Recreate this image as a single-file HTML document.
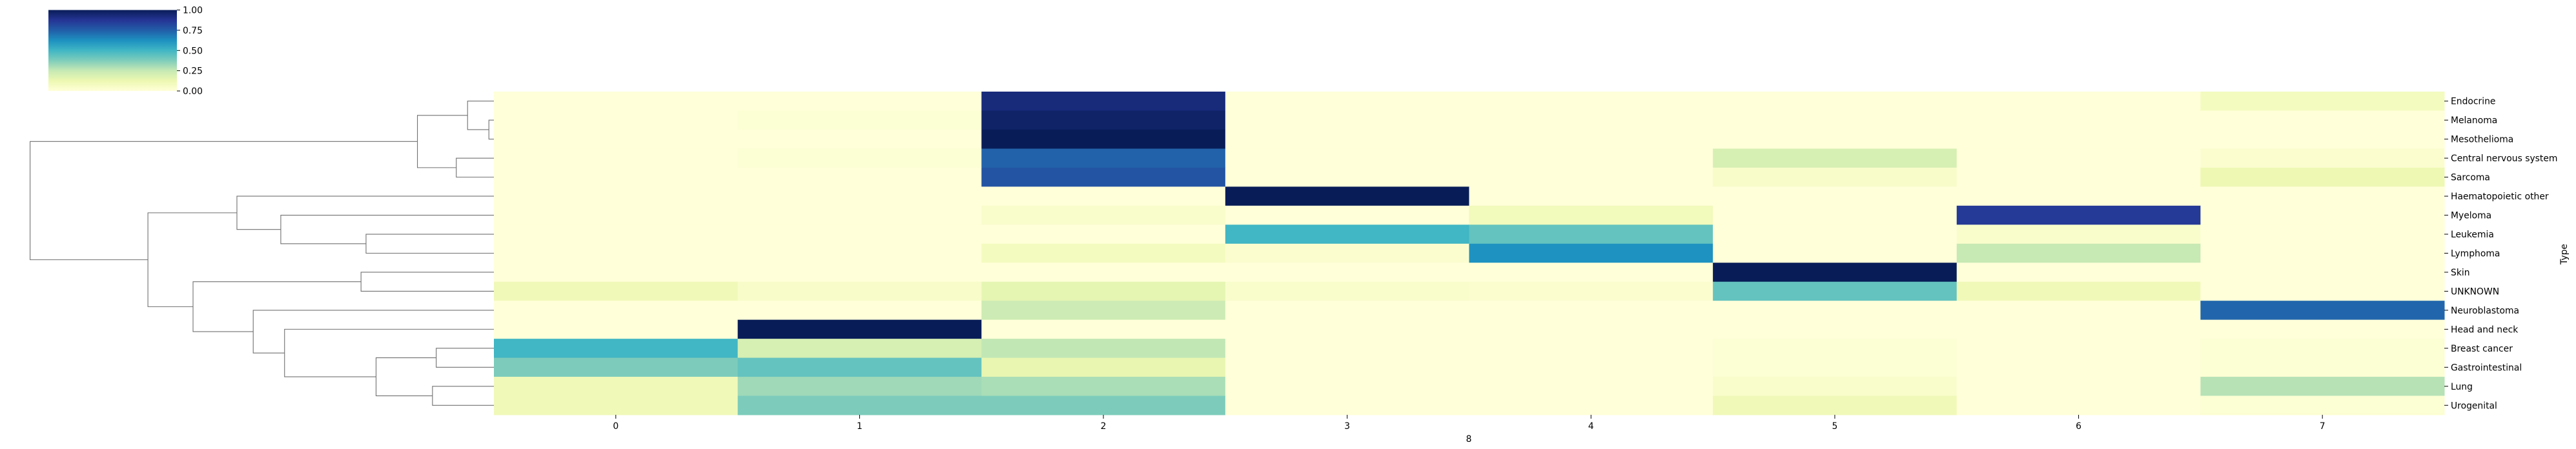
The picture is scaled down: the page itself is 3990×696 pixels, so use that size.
<!DOCTYPE html>
<html><head><meta charset="utf-8"><style>
html,body{margin:0;padding:0;background:#fff;}
svg{display:block;font-family:"DejaVu Sans","Liberation Sans",sans-serif;}
</style></head><body>
<svg id="chart" width="3990" height="696" viewBox="0 0 3990 696" xmlns="http://www.w3.org/2000/svg">
<defs>
<linearGradient id="cbgrad" x1="0" y1="1" x2="0" y2="0">
<stop offset="0" stop-color="#ffffd9"/><stop offset="0.125" stop-color="#edf8b1"/><stop offset="0.25" stop-color="#c7e9b4"/><stop offset="0.375" stop-color="#7fcdbb"/><stop offset="0.5" stop-color="#41b6c4"/><stop offset="0.625" stop-color="#1d91c0"/><stop offset="0.75" stop-color="#225ea8"/><stop offset="0.875" stop-color="#253494"/><stop offset="1" stop-color="#081d58"/>
</linearGradient>
</defs>
<g id="heat"></g>
<g id="dendro"></g>
<g id="cbar"></g>
<text x="2275" y="685" font-size="13.9" text-anchor="middle" fill="#000">8</text>
<text x="3976" y="394" font-size="13.9" text-anchor="middle" fill="#000" transform="rotate(-90 3976 394)">Type</text>
</svg>
<script>
const rowLabels = ["Endocrine","Melanoma","Mesothelioma","Central nervous system","Sarcoma","Haematopoietic other","Myeloma","Leukemia","Lymphoma","Skin","UNKNOWN","Neuroblastoma","Head and neck","Breast cancer","Gastrointestinal","Lung","Urogenital"];
const colLabels = ["0","1","2","3","4","5","6","7"];
const values = [
[0,0,0.93,0,0,0,0,0.08],
[0,0.02,0.97,0,0,0,0,0],
[0,0,1.0,0,0,0,0,0],
[0,0.02,0.74,0,0,0.2,0,0.03],
[0,0,0.78,0,0,0.05,0,0.12],
[0,0,0,1.0,0,0,0,0],
[0,0,0.04,0,0.09,0,0.86,0],
[0,0,0,0.5,0.43,0,0.04,0],
[0,0,0.08,0.03,0.62,0,0.25,0],
[0,0,0,0,0,1.0,0,0],
[0.1,0.05,0.15,0.04,0.03,0.43,0.1,0],
[0,0,0.23,0,0,0,0,0.73],
[0,1.0,0,0,0,0,0,0],
[0.5,0.2,0.26,0,0,0.02,0,0.02],
[0.38,0.43,0.14,0,0,0.02,0,0.02],
[0.1,0.32,0.3,0,0,0.04,0,0.28],
[0.1,0.38,0.38,0,0,0.1,0,0.02]
];
// linkage: [left, right, height]; leaves 0..16, nodes 17..
const linkage = [
[1,2,0.04],[0,17,0.21],[3,4,0.30],[18,19,0.61],
[7,8,1.02],[6,21,1.70],[5,22,2.05],
[9,10,1.06],[13,14,0.46],[15,16,0.49],[25,26,0.94],[12,27,1.67],[11,28,1.92],[24,29,2.40],
[23,30,2.76],[20,31,3.70]
];
const cbTicks = [0,0.25,0.5,0.75,1.0];

const NS="http://www.w3.org/2000/svg";
const HX0=765,HX1=3786,HY0=142,HY1=643;
const cw=(HX1-HX0)/colLabels.length, rh=(HY1-HY0)/rowLabels.length;
const xCol=i=>HX0+i*cw, yRow=i=>HY0+i*rh;
const DX0=765,DX1=46.6,HMAX=3.70;
const xDist=h=>DX0-(h/HMAX)*(DX0-DX1);
const stops=[[255,255,217],[237,248,177],[199,233,180],[127,205,187],[65,182,196],[29,145,192],[34,94,168],[37,52,148],[8,29,88]];
function cmap(v){v=Math.max(0,Math.min(1,v));const t=v*8,i=Math.min(7,Math.floor(t)),f=t-i;const a=stops[i],b=stops[i+1];return `rgb(${a.map((c,k)=>Math.round(c+(b[k]-c)*f)).join(",")})`;}
function mk(tag,attrs,parent){const e=document.createElementNS(NS,tag);for(const k in attrs)e.setAttribute(k,attrs[k]);parent.appendChild(e);return e;}

const heat=document.getElementById('heat');
values.forEach((row,r)=>row.forEach((v,c)=>{
  const el=mk('rect',{x:xCol(c),y:yRow(r),width:cw+0.5,height:rh+0.5,fill:cmap(v)},heat);
  
  
}));
rowLabels.forEach((lab,r)=>{
  const y=yRow(r)+rh/2;
  const t=mk('line',{x1:HX1,x2:HX1+6,y1:y,y2:y,stroke:'#000','stroke-width':1},heat);
  
  
  const tx=mk('text',{x:HX1+10,y:y+5,'font-size':13.9,fill:'#000'},heat);
  tx.textContent=lab;
  
  
});
colLabels.forEach((lab,c)=>{
  const x=xCol(c)+cw/2;
  const t=mk('line',{x1:x,x2:x,y1:HY1,y2:HY1+6,stroke:'#000','stroke-width':1},heat);
  
  
  const tx=mk('text',{x:x,y:HY1+22,'font-size':13.9,'text-anchor':'middle',fill:'#000'},heat);
  tx.textContent=lab;
  
  
});

// dendrogram
const dg=document.getElementById('dendro');
const pos={};
for(let i=0;i<rowLabels.length;i++)pos[i]={y:yRow(i)+rh/2,x:DX0};
linkage.forEach((lk,k)=>{
  const a=pos[lk[0]],b=pos[lk[1]],x=xDist(lk[2]);
  const p=mk('path',{d:`M${a.x},${a.y}H${x}V${b.y}H${b.x}`,fill:'none',stroke:'#707070','stroke-width':1.1},dg);
  
  
  pos[rowLabels.length+k]={x:x,y:(a.y+b.y)/2};
});

// colorbar
const cb=document.getElementById('cbar');
const CX0=75,CX1=274,CY0=15.5,CY1=141;
const cr=mk('rect',{x:CX0,y:CY0,width:CX1-CX0,height:CY1-CY0,fill:'url(#cbgrad)'},cb);


cbTicks.forEach(v=>{
  const y=CY1-v*(CY1-CY0);
  const t=mk('line',{x1:CX1,x2:CX1+5,y1:y,y2:y,stroke:'#000','stroke-width':1},cb);
  
  
  const tx=mk('text',{x:CX1+9,y:y+5,'font-size':13.9,fill:'#000'},cb);
  tx.textContent=v.toFixed(2);
  
  
});
</script>
</body></html>
